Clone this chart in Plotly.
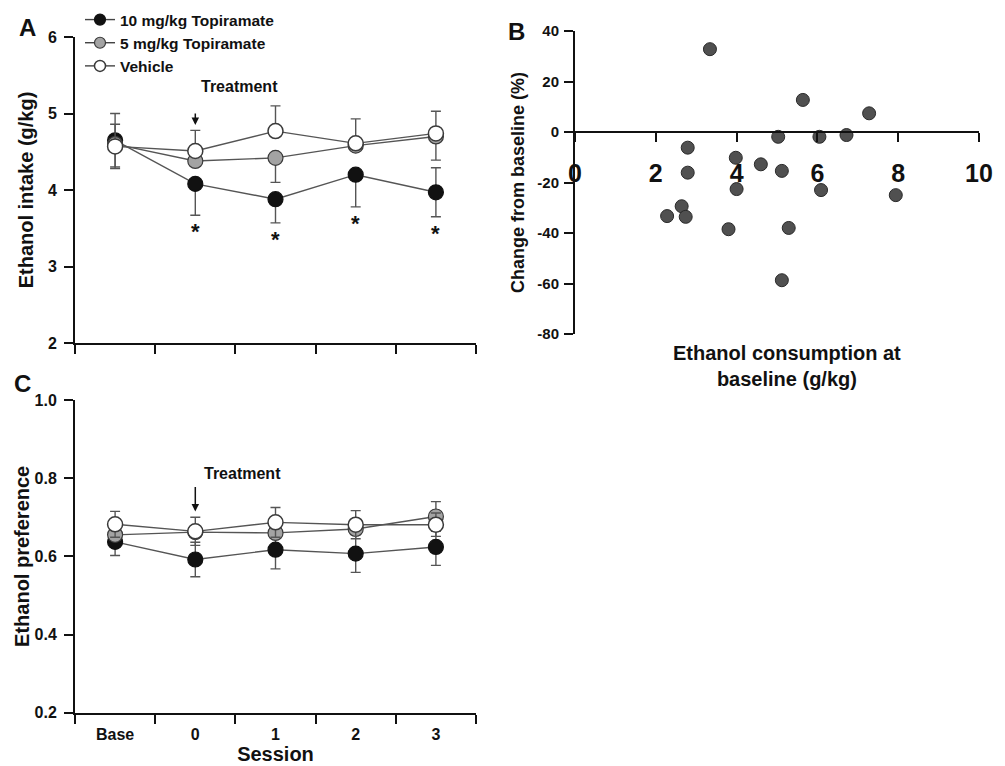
import plotly.graph_objects as go

W, H = 1005, 766
FONT = "Liberation Sans, Arial, sans-serif"
INK = "#111111"

sessions = ["Base", "0", "1", "2", "3"]
series_names = ["10 mg/kg Topiramate", "5 mg/kg Topiramate", "Vehicle"]

# Panel A: ethanol intake (g/kg), mean with SEM
intake_10 = [4.65, 4.08, 3.88, 4.20, 3.97]
intake_10_up = [0.35, 0.0, 0.0, 0.0, 0.32]
intake_10_dn = [0.35, 0.41, 0.31, 0.42, 0.32]
intake_5 = [4.60, 4.38, 4.42, 4.58, 4.70]
intake_5_up = [0.0, 0.0, 0.0, 0.0, 0.0]
intake_5_dn = [0.0, 0.0, 0.32, 0.0, 0.31]
intake_veh = [4.57, 4.51, 4.77, 4.61, 4.74]
intake_veh_up = [0.29, 0.27, 0.33, 0.32, 0.29]
intake_veh_dn = [0.29, 0.0, 0.0, 0.0, 0.0]
significant = ["0", "1", "2", "3"]

# Panel B: individual change from baseline vs baseline consumption
baseline_consumption = [3.34, 5.64, 7.28, 5.03, 6.05, 6.72, 2.79, 3.98, 4.60, 2.79,
                        5.12, 4.00, 6.09, 7.94, 2.64, 2.28, 2.74, 3.80, 5.29, 5.12]
change_pct = [32.8, 12.7, 7.4, -1.9, -1.9, -1.2, -6.2, -10.2, -12.8, -16.1,
              -15.4, -22.6, -23.0, -25.0, -29.4, -33.3, -33.6, -38.5, -38.0, -58.7]
change_ticks = [-80, -60, -40, -20, 0, 20, 40]
change_tick_labels = ["-80", "-60", "-40", "-20", "0", "20", "40"]

# Panel C: ethanol preference, mean with SEM
pref_10 = [0.637, 0.592, 0.617, 0.607, 0.624]
pref_10_err = [0.035, 0.044, 0.049, 0.048, 0.047]
pref_5 = [0.655, 0.662, 0.660, 0.670, 0.702]
pref_5_err = [0.0, 0.0, 0.0, 0.0, 0.038]
pref_veh = [0.682, 0.664, 0.687, 0.681, 0.681]
pref_veh_err = [0.033, 0.036, 0.038, 0.036, 0.030]

styles = [
    dict(color="#111111", line=dict(color="#111111", width=1.2)),
    dict(color="#a3a3a3", line=dict(color="#3a3a3a", width=1.2)),
    dict(color="#ffffff", line=dict(color="#3a3a3a", width=1.5)),
]


def px_x(p):
    return p / W


def px_y(p):
    return 1 - p / H


def err(up, dn):
    return dict(type="data", symmetric=False, array=up, arrayminus=dn,
                color="#555555", thickness=1.4, width=5)


fig = go.Figure()

groups_a = [(intake_10, intake_10_up, intake_10_dn),
            (intake_5, intake_5_up, intake_5_dn),
            (intake_veh, intake_veh_up, intake_veh_dn)]
for name, st, (vals, up, dn) in zip(series_names, styles, groups_a):
    fig.add_trace(go.Scatter(
        x=sessions, y=vals, name=name, mode="lines+markers",
        line=dict(color="#555555", width=1.4),
        marker=dict(size=15, **st),
        error_y=err(up, dn), xaxis="x", yaxis="y", showlegend=False))

# legend entries (line + symbol only)
for name, st in zip(series_names, styles):
    fig.add_trace(go.Scatter(
        x=[None], y=[None], name=name, mode="lines+markers",
        line=dict(color="#444444", width=1.4),
        marker=dict(size=11, **st), xaxis="x", yaxis="y", showlegend=True))

fig.add_trace(go.Scatter(
    x=baseline_consumption, y=change_pct, mode="markers",
    marker=dict(size=13, color="#505050", line=dict(color="#2a2a2a", width=1)),
    xaxis="x2", yaxis="y2", showlegend=False))

groups_c = [(pref_10, pref_10_err), (pref_5, pref_5_err), (pref_veh, pref_veh_err)]
for name, st, (vals, e) in zip(series_names, styles, groups_c):
    fig.add_trace(go.Scatter(
        x=sessions, y=vals, name=name, mode="lines+markers",
        line=dict(color="#555555", width=1.4),
        marker=dict(size=15, **st),
        error_y=err(e, e), xaxis="x3", yaxis="y3", showlegend=False))

axis_common = dict(showline=True, linecolor=INK, linewidth=2, ticks="outside",
                   ticklen=9, tickwidth=2, tickcolor=INK, showgrid=False,
                   zeroline=False, color=INK, automargin=False)
tick_font = dict(family=FONT, size=16, color=INK, weight="bold")

session_axis = dict(type="category", categoryorder="array", categoryarray=sessions,
                    range=[-0.5, 4.5], tickson="boundaries",
                    domain=[px_x(75), px_x(476)], **axis_common)

fig.update_layout(
    width=W, height=H,
    margin=dict(l=0, r=0, t=0, b=0, pad=0, autoexpand=False),
    paper_bgcolor="white", plot_bgcolor="white",
    font=dict(family=FONT, color=INK),
    showlegend=True,
    legend=dict(x=px_x(80), y=px_y(3), xanchor="left", yanchor="top",
                bgcolor="rgba(0,0,0,0)", tracegroupgap=0, itemsizing="trace",
                font=dict(family=FONT, size=15.5, color=INK, weight="bold")),
    xaxis=dict(anchor="y", showticklabels=False, **session_axis),
    yaxis=dict(anchor="x", domain=[px_y(343), px_y(37)], range=[2, 6], dtick=1,
               tickfont=tick_font, ticklabelstandoff=4,
               title=dict(text="Ethanol intake (g/kg)", standoff=9,
                          font=dict(family=FONT, size=20, color=INK, weight="bold")),
               **axis_common),
    xaxis2=dict(anchor="free", position=px_y(132), domain=[px_x(575), px_x(979)],
                range=[0, 10], dtick=2, ticklabelstandoff=10,
                tickfont=dict(family=FONT, size=25, color=INK, weight="bold"),
                **axis_common),
    yaxis2=dict(anchor="x2", domain=[px_y(334), px_y(31)], range=[-80, 40],
                tickvals=change_ticks, ticktext=change_tick_labels,
                tickfont=dict(family=FONT, size=15, color=INK, weight="bold"),
                ticklabelstandoff=2,
                title=dict(text="Change from baseline (%)", standoff=8,
                           font=dict(family=FONT, size=18, color=INK, weight="bold")),
                **axis_common),
    xaxis3=dict(anchor="y3", tickfont=tick_font, ticklabelstandoff=6,
                title=dict(text="Session", standoff=5,
                           font=dict(family=FONT, size=20, color=INK, weight="bold")),
                **session_axis),
    yaxis3=dict(anchor="x3", domain=[px_y(712.7), px_y(400)], range=[0.2, 1.0],
                dtick=0.2, tickformat=".1f", tickfont=tick_font, ticklabelstandoff=4,
                title=dict(text="Ethanol preference", standoff=0,
                           font=dict(family=FONT, size=20, color=INK, weight="bold")),
                **axis_common),
)

annotations = []
# panel letters
for letter, (lx, ly) in zip("ABC", [(27, 28), (516, 31), (22, 384)]):
    annotations.append(dict(text=letter, x=px_x(lx), y=px_y(ly), xref="paper", yref="paper",
                            showarrow=False, xanchor="center", yanchor="middle",
                            font=dict(family=FONT, size=24, color=INK, weight="bold")))

# x title for panel B
annotations.append(dict(text="Ethanol consumption at<br>baseline (g/kg)",
                        x=px_x(787), y=px_y(366), xref="paper", yref="paper",
                        showarrow=False, xanchor="center", yanchor="middle",
                        font=dict(family=FONT, size=20, color=INK, weight="bold")))

# treatment markers (arrow points at session "0")
treat_idx = sessions.index("0")
for ax_x, ax_y, tip, tail, text_px in [("x", "y", 4.85, -13, (239.5, 86)),
                                      ("x3", "y3", 0.715, -26, (242, 473))]:
    annotations.append(dict(text="", x=treat_idx, y=tip, xref=ax_x, yref=ax_y,
                            showarrow=True, ax=0, ay=tail, arrowhead=2, arrowsize=1,
                            arrowwidth=1.5, arrowcolor=INK, standoff=0, startstandoff=0))
    annotations.append(dict(text="Treatment", x=px_x(text_px[0]), y=px_y(text_px[1]),
                            xref="paper", yref="paper", showarrow=False,
                            xanchor="center", yanchor="middle",
                            font=dict(family=FONT, size=16, color=INK, weight="bold")))

# significance stars under the 10 mg/kg error bars
for s in significant:
    i = sessions.index(s)
    annotations.append(dict(text="*", x=i, y=intake_10[i] - intake_10_dn[i],
                            xref="x", yref="y", showarrow=False,
                            xanchor="center", yanchor="top", yshift=-2,
                            font=dict(family=FONT, size=22, color=INK, weight="bold")))

fig.update_layout(annotations=annotations)

fig.write_html("out.html")
